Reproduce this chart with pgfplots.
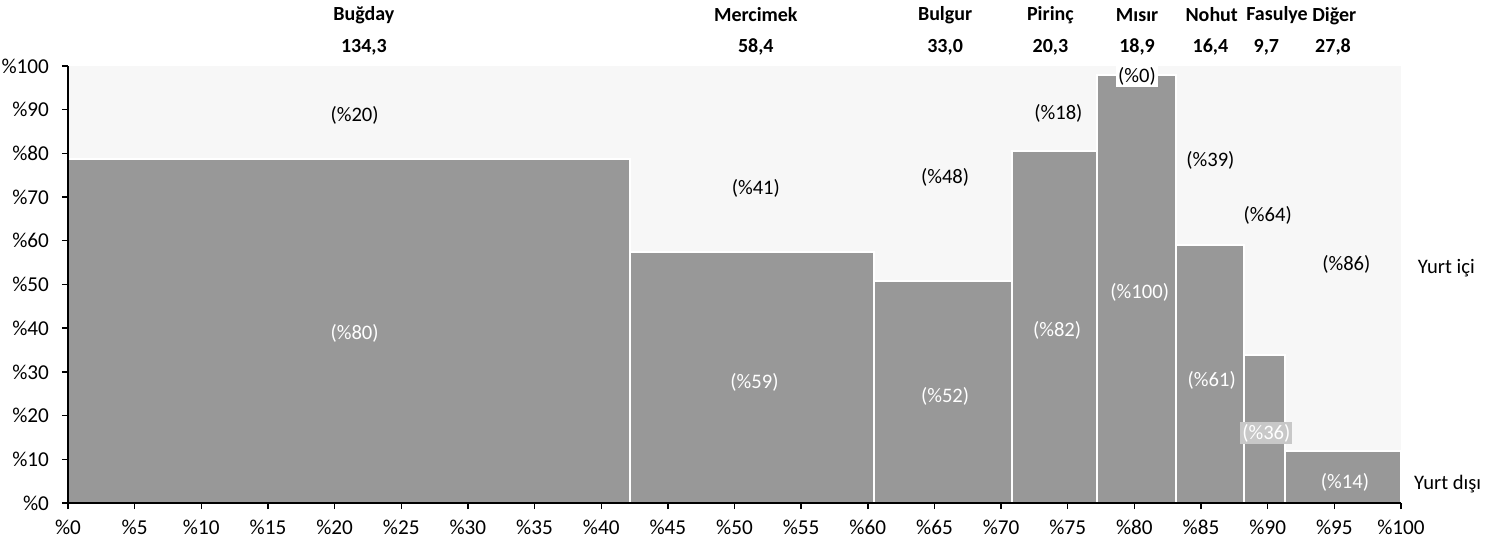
\documentclass[border=0pt]{standalone}
\usepackage{pgfplots}
\pgfplotsset{compat=1.18}
\usepackage{fontspec}
\setmainfont{Carlito}
\definecolor{dark}{RGB}{152,152,152}
\definecolor{light}{RGB}{247,247,247}
\definecolor{mid}{RGB}{200,200,200}
\begin{document}
\begin{tikzpicture}
\begin{axis}[
  name=ax,
  scale only axis, width=666.5bp, height=218.5bp,
  xmin=0, xmax=100, ymin=0, ymax=100,
  axis lines*=left, axis on top,
  axis line style={black, line width=0.7bp},
  tick style={black, line width=0.7bp},
  tick align=outside, major tick length=3bp,
  xtick={0,5,...,100}, ytick={0,10,...,100},
  xticklabels={\%0,\%5,\%10,\%15,\%20,\%25,\%30,\%35,\%40,\%45,\%50,\%55,\%60,\%65,\%70,\%75,\%80,\%85,\%90,\%95,\%100},
  yticklabels={\%0,\%10,\%20,\%30,\%40,\%50,\%60,\%70,\%80,\%90,\%100},
  tick label style={font=\fontsize{10.6bp}{12bp}\selectfont},
  xticklabel style={yshift=-2bp},
  yticklabel style={xshift=-3bp},
  clip=false,
]
% upper (Yurt ici) background
\addplot[ybar interval, fill=light, draw=none] coordinates {(0,100) (100,100)};
% lower (Yurt disi) bars, widths = shares of total
\addplot[ybar interval, fill=dark, draw=white, line width=1bp] table {
x y
0 78.7
42.13 57.4
60.45 50.8
70.80 80.5
77.16 97.9
83.09 59.0
88.24 33.9
91.28 11.9
100 11.9
};
\begin{scope}[every node/.style={font=\fontsize{10bp}{12bp}\selectfont\bfseries}]
\node at (axis cs:22.2,111.7) {Buğday};
\node at (axis cs:22.2,104.3) {134,3};
\node at (axis cs:51.6,111.7) {Mercimek};
\node at (axis cs:51.6,104.3) {58,4};
\node at (axis cs:65.8,111.7) {Bulgur};
\node at (axis cs:65.8,104.3) {33,0};
\node at (axis cs:73.7,111.7) {Pirinç};
\node at (axis cs:73.7,104.3) {20,3};
\node at (axis cs:80.2,111.7) {Mısır};
\node at (axis cs:80.2,104.3) {18,9};
\node at (axis cs:85.8,111.7) {Nohut};
\node at (axis cs:85.7,104.3) {16,4};
\node at (axis cs:90.7,111.7) {Fasulye};
\node at (axis cs:89.9,104.3) {9,7};
\node at (axis cs:95.0,111.3) {Diğer};
\node at (axis cs:94.9,104.3) {27,8};
\end{scope}
\begin{scope}[every node/.style={font=\fontsize{10.3bp}{12bp}\selectfont}]
\node at (axis cs:21.5,88.8) {(\%20)};
\node at (axis cs:51.6,72.1) {(\%41)};
\node at (axis cs:65.8,74.4) {(\%48)};
\node at (axis cs:74.3,89.2) {(\%18)};
\node[fill=white, inner sep=1bp] at (axis cs:80.2,97.6) {(\%0)};
\node at (axis cs:85.7,78.5) {(\%39)};
\node at (axis cs:90.0,65.7) {(\%64)};
\node at (axis cs:95.9,54.7) {(\%86)};
\node[white] at (axis cs:21.5,38.9) {(\%80)};
\node[white] at (axis cs:51.5,27.7) {(\%59)};
\node[white] at (axis cs:65.8,24.5) {(\%52)};
\node[white] at (axis cs:74.2,39.6) {(\%82)};
\node[white] at (axis cs:80.4,48.3) {(\%100)};
\node[white] at (axis cs:85.8,28.1) {(\%61)};
\node[white, fill=mid, inner sep=1bp] at (axis cs:89.9,16.0) {(\%36)};
\node[white] at (axis cs:95.8,4.8) {(\%14)};
\node at (axis cs:103.4,53.8) {Yurt içi};
\node at (axis cs:103.5,4.3) {Yurt dışı};
\end{scope}
\coordinate (O) at (rel axis cs:0,0);
\end{axis}
\pgfresetboundingbox
\path ([shift={(-34bp,-25bp)}]O) rectangle ([shift={(712.5bp,251.5bp)}]O);
\end{tikzpicture}
\end{document}
